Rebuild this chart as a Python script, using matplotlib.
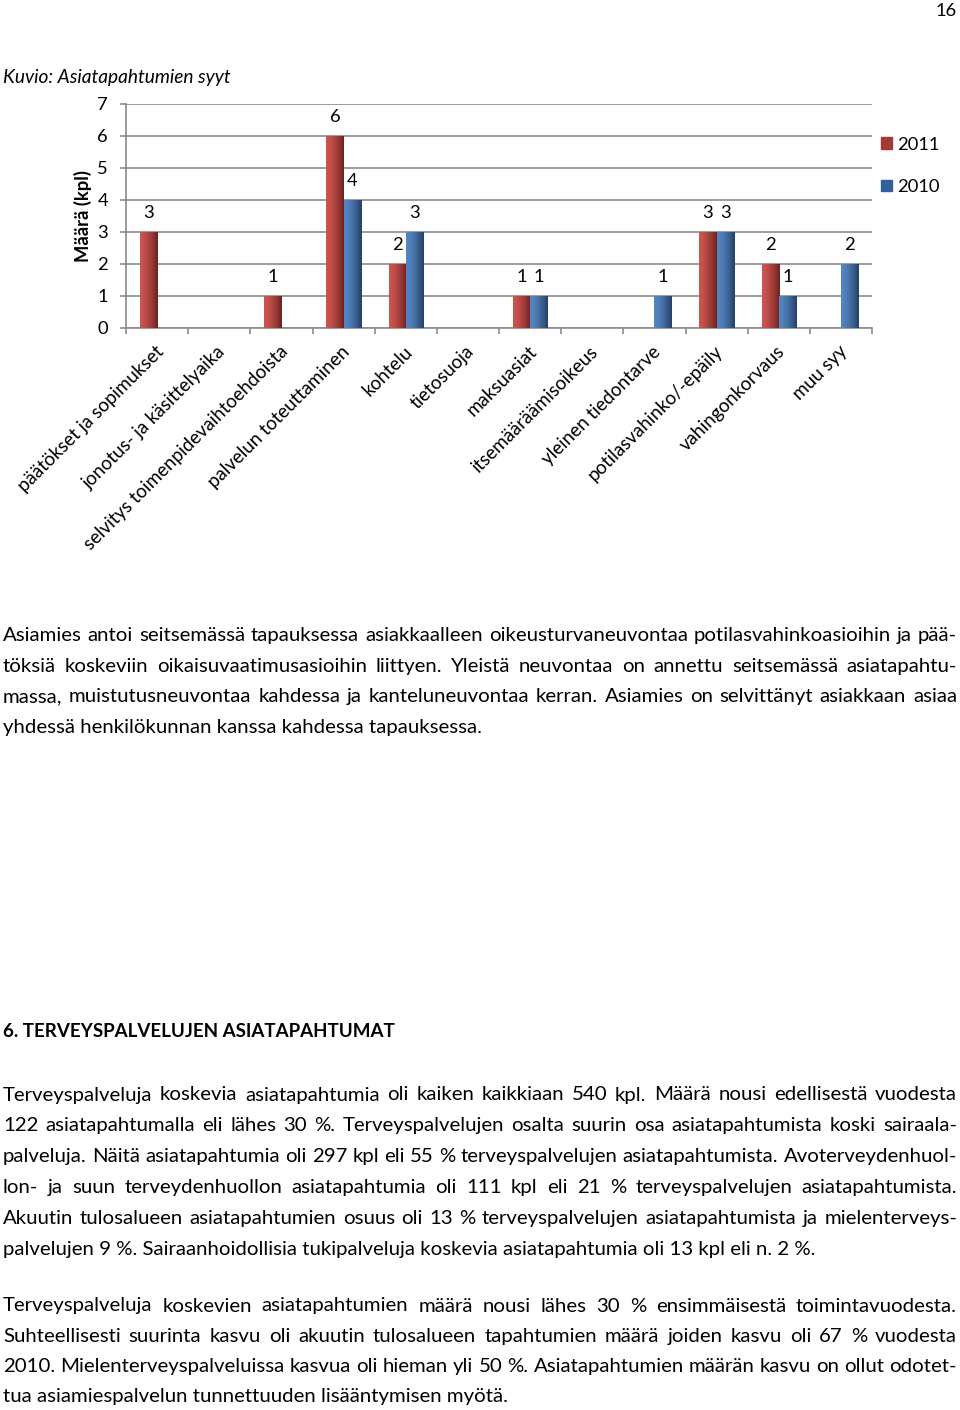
import matplotlib
matplotlib.use("Agg")
import matplotlib.pyplot as plt
import numpy as np
from matplotlib.patches import Patch

# ---------------- data ----------------
categories = ["päätökset ja sopimukset", "jonotus- ja käsittelyaika",
              "selvitys toimenpidevaihtoehdoista", "palvelun toteuttaminen",
              "kohtelu", "tietosuoja", "maksuasiat", "itsemääräämisoikeus",
              "yleinen tiedontarve", "potilasvahinko/-epäily",
              "vahingonkorvaus", "muu syy"]
values_2011 = [3, 0, 1, 6, 2, 0, 1, 0, 0, 3, 2, 0]
values_2010 = [0, 0, 0, 4, 3, 0, 1, 0, 1, 3, 1, 2]
series_names = ["2011", "2010"]
y_ticks = [0, 1, 2, 3, 4, 5, 6, 7]

title_text = "Kuvio: Asiatapahtumien syyt"
ylabel_text = "Määrä (kpl)"
page_number = "16"

para1 = ["Asiamies antoi seitsemässä tapauksessa asiakkaalleen oikeusturvaneuvontaa potilasvahinkoasioihin ja pää-",
         "töksiä koskeviin oikaisuvaatimusasioihin liittyen. Yleistä neuvontaa on annettu seitsemässä asiatapahtu-",
         "massa, muistutusneuvontaa kahdessa ja kanteluneuvontaa kerran. Asiamies on selvittänyt asiakkaan asiaa",
         "yhdessä henkilökunnan kanssa kahdessa tapauksessa."]
heading = "6. TERVEYSPALVELUJEN ASIATAPAHTUMAT"
para2 = ["Terveyspalveluja koskevia asiatapahtumia oli kaiken kaikkiaan 540 kpl. Määrä nousi edellisestä vuodesta",
         "122 asiatapahtumalla eli lähes 30 %. Terveyspalvelujen osalta suurin osa asiatapahtumista koski sairaala-",
         "palveluja. Näitä asiatapahtumia oli 297 kpl eli 55 % terveyspalvelujen asiatapahtumista. Avoterveydenhuol-",
         "lon- ja suun terveydenhuollon asiatapahtumia oli 111 kpl eli 21 % terveyspalvelujen asiatapahtumista.",
         "Akuutin tulosalueen asiatapahtumien osuus oli 13 % terveyspalvelujen asiatapahtumista ja mielenterveys-",
         "palvelujen 9 %. Sairaanhoidollisia tukipalveluja koskevia asiatapahtumia oli 13 kpl eli n. 2 %."]
para3 = ["Terveyspalveluja koskevien asiatapahtumien määrä nousi lähes 30 % ensimmäisestä toimintavuodesta.",
         "Suhteellisesti suurinta kasvu oli akuutin tulosalueen tapahtumien määrä joiden kasvu oli 67 % vuodesta",
         "2010. Mielenterveyspalveluissa kasvua oli hieman yli 50 %. Asiatapahtumien määrän kasvu on ollut odotet-",
         "tua asiamiespalvelun tunnettuuden lisääntymisen myötä."]

# ---------------- figure ----------------
W, H = 960, 1410
FONT = "Lato"
FS = 13.2      # numbers in chart
FS_BODY = 14.7
FS_CAT = 13.5
plt.rcParams['font.family'] = [FONT, 'DejaVu Sans']
fig = plt.figure(figsize=(W / 100, H / 100), dpi=100)
fig.patch.set_facecolor("white")

def fx(px):
    return px / W

def fy(py):
    return 1 - py / H

ax_l, ax_r, ax_t, ax_b = 126, 872, 104, 328
ax = fig.add_axes([fx(ax_l), fy(ax_b), fx(ax_r - ax_l), (ax_b - ax_t) / H])

n = len(categories)
x = np.arange(n)
bw = 0.275
red_base, red_dark = np.array([0.80, 0.33, 0.31]), np.array([0.42, 0.13, 0.12])
blue_base, blue_dark = np.array([0.33, 0.52, 0.76]), np.array([0.14, 0.25, 0.40])

bars_r = ax.bar(x - bw / 2, values_2011, bw, color="#B0413E", zorder=3, linewidth=0)
bars_b = ax.bar(x + bw / 2, values_2010, bw, color="#3C6AA5", zorder=3, linewidth=0)

def grad(c1, c2):
    t = np.linspace(0, 1, 64)
    t = t ** 1.6
    g = (1 - t)[:, None] * c1[None, :] + t[:, None] * c2[None, :]
    return g[None, :, :]

for bars, c1, c2 in [(bars_r, red_base, red_dark), (bars_b, blue_base, blue_dark)]:
    g = grad(c1, c2)
    for b in bars:
        h = b.get_height()
        if h <= 0:
            continue
        x0 = b.get_x()
        im = ax.imshow(g, extent=(x0, x0 + b.get_width(), 0, h), aspect='auto',
                       interpolation='bilinear', zorder=4)
        im.set_clip_path(b)

ax.set_xlim(-0.5, n - 0.5)
ax.set_ylim(0, 7)

for bars, vals in [(bars_r, values_2011), (bars_b, values_2010)]:
    ax.bar_label(bars, labels=[str(v) if v else "" for v in vals], padding=8,
                 fontsize=FS, color="black", zorder=5)

gcol = "#8C8C8C"
ax.set_yticks(y_ticks)
ax.yaxis.grid(True, color=gcol, linewidth=1.2, zorder=0)
ax.set_axisbelow(True)
for s in ["top", "right"]:
    ax.spines[s].set_visible(False)
ax.spines["left"].set_color(gcol)
ax.spines["bottom"].set_color(gcol)
ax.spines["left"].set_linewidth(1.2)
ax.spines["bottom"].set_linewidth(1.2)
ax.tick_params(axis='y', length=4, color=gcol, width=1.2, labelsize=FS, pad=9)

ax.set_xticks(np.arange(n + 1) - 0.5, minor=False)
ax.set_xticklabels([])
ax.tick_params(axis='x', which='major', length=4, color=gcol, width=1.2)
ax.set_xticks(x + 0.06, minor=True)
ax.set_xticklabels(categories, minor=True, rotation=45, ha='right', va='center',
                   rotation_mode='anchor', fontsize=FS_CAT)
ax.tick_params(axis='x', which='minor', length=0, pad=15)

ax.set_ylabel(ylabel_text, fontsize=FS, fontweight='bold', labelpad=4)

handles = [Patch(color="#A33A37"), Patch(color="#34609A")]
leg = fig.legend(handles, series_names, loc='upper left',
                 bbox_to_anchor=(fx(864), fy(120)), frameon=False, fontsize=FS,
                 handlelength=0.6, handleheight=0.6, handletextpad=0.3,
                 labelspacing=1.45)

# ---------------- page text ----------------
fig.text(fx(957), fy(16), page_number, ha='right', va='baseline', fontsize=FS)
fig.text(fx(3), fy(83), title_text, ha='left', va='baseline', fontsize=13.75, style='italic')
fig.text(fx(3), fy(1037), heading, ha='left', va='baseline', fontsize=13.5, fontweight='bold')

renderer = fig.canvas.get_renderer()

def width_of(s):
    t = fig.text(0, 0, s, fontsize=FS_BODY)
    w = t.get_window_extent(renderer).width
    t.remove()
    return w

L, R = 3, 957

def paragraph(lines, y0, dy):
    for i, line in enumerate(lines):
        y = y0 + i * dy
        if i == len(lines) - 1:
            fig.text(fx(L), fy(y), line, ha='left', va='baseline', fontsize=FS_BODY)
            continue
        words = line.split(' ')
        ws = [width_of(w) for w in words]
        gap = (R - L - sum(ws)) / (len(words) - 1)
        xx = L
        for w, wd in zip(words, ws):
            fig.text(fx(xx), fy(y), w, ha='left', va='baseline', fontsize=FS_BODY)
            xx += wd + gap

paragraph(para1, 641, 30.6)
paragraph(para2, 1100.5, 30.8)
paragraph(para3, 1311.5, 30.3)

fig.savefig("out.png", dpi=100, facecolor="white")
